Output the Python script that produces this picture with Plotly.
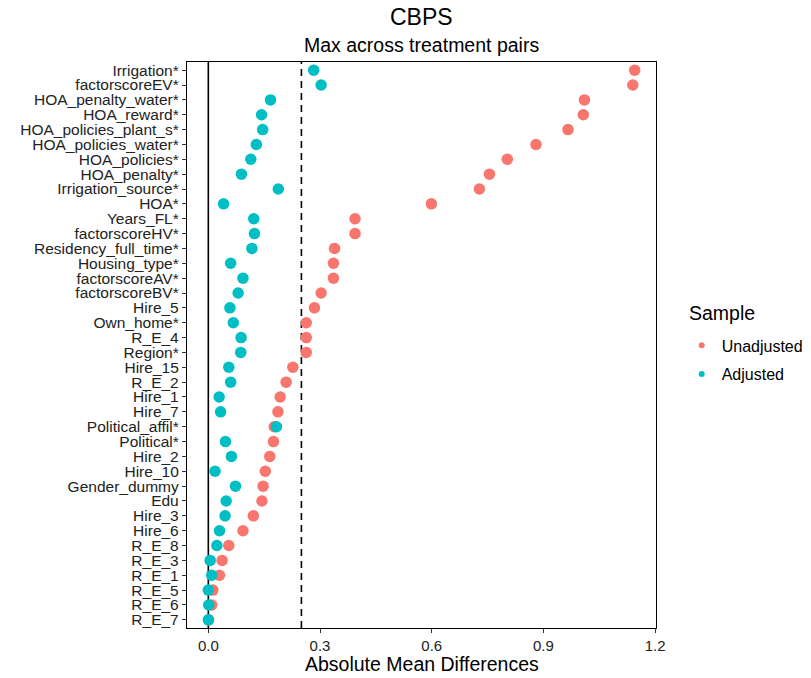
import plotly.graph_objects as go

covariates = [
    "Irrigation*", "factorscoreEV*", "HOA_penalty_water*", "HOA_reward*",
    "HOA_policies_plant_s*", "HOA_policies_water*", "HOA_policies*", "HOA_penalty*",
    "Irrigation_source*", "HOA*", "Years_FL*", "factorscoreHV*",
    "Residency_full_time*", "Housing_type*", "factorscoreAV*", "factorscoreBV*",
    "Hire_5", "Own_home*", "R_E_4", "Region*", "Hire_15", "R_E_2", "Hire_1",
    "Hire_7", "Political_affil*", "Political*", "Hire_2", "Hire_10",
    "Gender_dummy", "Edu", "Hire_3", "Hire_6", "R_E_8", "R_E_3", "R_E_1",
    "R_E_5", "R_E_6", "R_E_7",
]

unadjusted = [
    1.145, 1.140, 1.010, 1.007, 0.966, 0.880, 0.803, 0.755, 0.728, 0.599,
    0.394, 0.394, 0.339, 0.336, 0.336, 0.303, 0.285, 0.263, 0.263, 0.263,
    0.227, 0.209, 0.193, 0.187, 0.177, 0.175, 0.165, 0.153, 0.147, 0.144,
    0.121, 0.093, 0.055, 0.037, 0.030, 0.012, 0.009, 0.001,
]

adjusted = [
    0.283, 0.303, 0.167, 0.143, 0.146, 0.129, 0.114, 0.089, 0.188, 0.041,
    0.122, 0.124, 0.117, 0.060, 0.093, 0.080, 0.058, 0.067, 0.088, 0.087,
    0.055, 0.060, 0.029, 0.033, 0.183, 0.046, 0.062, 0.018, 0.073, 0.048,
    0.045, 0.030, 0.023, 0.005, 0.009, 0.000, 0.001, 0.000,
]

x_ticks = [0.0, 0.3, 0.6, 0.9, 1.2]
x_tick_labels = ["0.0", "0.3", "0.6", "0.9", "1.2"]
threshold = 0.25

title_text = "CBPS"
subtitle_text = "Max across treatment pairs"
x_title = "Absolute Mean Differences"
legend_title = "Sample"

RED = "#F8766D"
TEAL = "#00BFC4"
FONT = "Liberation Sans, Arial, sans-serif"

W, H = 811, 678
ML, MR, MT, MB = 187, 155, 62, 50
PW = W - ML - MR
PH = H - MT - MB


def px_x(p):
    return (p - ML) / PW


def px_y(p):
    return 1 - (p - MT) / PH


fig = go.Figure()

fig.add_trace(go.Scatter(
    x=unadjusted, y=covariates, mode="markers", name="Unadjusted",
    marker=dict(color=RED, size=11.5), showlegend=False,
))
fig.add_trace(go.Scatter(
    x=adjusted, y=covariates, mode="markers", name="Adjusted",
    marker=dict(color=TEAL, size=11.5), showlegend=False,
))
# legend entries with small keys
fig.add_trace(go.Scatter(
    x=[None], y=[None], mode="markers", name="Unadjusted", legendgroup="u",
    marker=dict(color=RED, size=6),
))
fig.add_trace(go.Scatter(
    x=[None], y=[None], mode="markers", name="Adjusted", legendgroup="a",
    marker=dict(color=TEAL, size=6),
))

fig.add_vline(x=0, line=dict(color="black", width=1.6), layer="below")
fig.add_vline(x=threshold, line=dict(color="black", width=1.6, dash="7px,5px"), layer="below")

n = len(covariates)
xmin, xmax = 0.0, max(unadjusted)
pad = 0.05 * (xmax - xmin)

fig.update_xaxes(
    range=[xmin - pad, xmax + pad],
    tickvals=x_ticks, ticktext=x_tick_labels,
    showgrid=False, zeroline=False,
    showline=True, linecolor="black", linewidth=1.3, mirror=True,
    ticks="outside", ticklen=4, tickcolor="#333333", tickwidth=1,
    tickfont=dict(family=FONT, size=15, color="#222222"),
)
fig.update_yaxes(
    type="category", categoryorder="array", categoryarray=covariates[::-1],
    tickmode="array", tickvals=covariates, ticktext=covariates,
    range=[-0.55, n - 1 + 0.55],
    showgrid=False, zeroline=False,
    showline=True, linecolor="black", linewidth=1.3, mirror=True,
    ticks="outside", ticklen=4, tickcolor="#333333", tickwidth=1,
    tickfont=dict(family=FONT, size=15.5, color="#222222"),
)

fig.update_layout(
    width=W, height=H,
    margin=dict(l=ML, r=MR, t=MT, b=MB, autoexpand=False),
    plot_bgcolor="white", paper_bgcolor="white",
    font=dict(family=FONT, color="black"),
    annotations=[
        dict(text=title_text, xref="paper", yref="paper", x=0.5, y=px_y(17),
             xanchor="center", yanchor="middle", showarrow=False,
             font=dict(family=FONT, size=23, color="black")),
        dict(text=subtitle_text, xref="paper", yref="paper", x=0.5, y=px_y(45),
             xanchor="center", yanchor="middle", showarrow=False,
             font=dict(family=FONT, size=19.5, color="black")),
        dict(text=x_title, xref="paper", yref="paper", x=0.5, y=px_y(664),
             xanchor="center", yanchor="middle", showarrow=False,
             font=dict(family=FONT, size=19.5, color="black")),
        dict(text=legend_title, xref="paper", yref="paper",
             x=px_x(687), y=px_y(313),
             xanchor="left", yanchor="middle", showarrow=False,
             font=dict(family=FONT, size=19.5, color="black")),
    ],
    legend=dict(
        font=dict(family=FONT, size=16, color="black"),
        x=px_x(681.7), xanchor="left",
        y=px_y(328.4), yanchor="top",
        tracegroupgap=5, bgcolor="rgba(0,0,0,0)",
    ),
)

# remove the default 8px page margin so the 811x678 figure fills the window
fig.write_html(
    "out.html",
    config={"displayModeBar": False},
    post_script="document.body.style.margin='0';",
)
